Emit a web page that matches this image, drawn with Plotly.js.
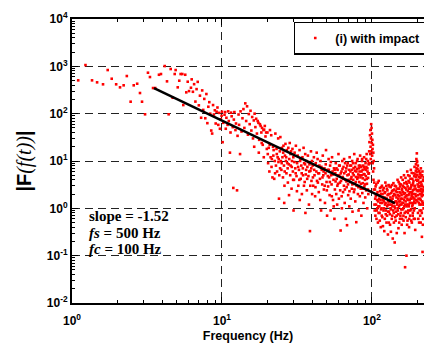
<!DOCTYPE html>
<html>
<head>
<meta charset="utf-8">
<script src="https://cdn.plot.ly/plotly-3.0.1.min.js"></script>
<style>html,body{margin:0;padding:0;background:#fff;}</style>
</head>
<body>
<div id="chart" style="width:424px;height:344px;"></div>
<script>
// [frequency Hz, |F(f(t))|], grouped by frequency band
const band1to6Hz = [[1.10,506],[1.23,1064],[1.36,506],[1.47,459],[1.61,417],[1.73,835],[1.84,547],[1.97,417],[2.09,360],[2.21,397],[2.32,624],[2.46,179],[2.58,397],[2.72,429],[2.84,273],[2.93,179],[3.07,97],[3.21,733],[3.31,594],[3.47,348],[3.59,348],[3.80,664],[3.92,688],[4.15,1014],[4.30,482],[4.41,97],[4.55,877],[4.69,217],[4.84,688],[4.91,835],[5.07,360],[5.19,497],[5.30,688],[5.44,688],[5.52,152],[5.69,664],[5.78,282],[5.91,473],[6.03,300],[6.21,353],[6.28,531]];
const band6to10Hz = [[6.40,290],[6.52,420],[6.65,180],[6.77,330],[6.89,470],[7.01,150],[7.13,240],[7.26,82],[7.38,310],[7.50,120],[7.62,205],[7.74,80],[7.87,260],[7.99,63],[8.11,140],[8.23,175],[8.35,100],[8.48,44],[8.60,38],[8.72,152],[8.84,96],[8.96,118],[9.08,62],[9.21,110],[9.33,135],[9.45,58],[9.57,104],[9.69,48],[9.82,76],[9.94,90]];
const band10to20Hz = [[10.0,110],[10.1,25],[10.2,64],[10.4,95],[10.5,108],[10.6,48],[10.7,82],[10.9,58],[11.0,112],[11.1,70],[11.3,15],[11.4,40],[11.5,105],[11.6,88],[11.8,52],[11.9,2.7],[12.0,75],[12.1,108],[12.3,45],[12.4,62],[12.6,2.4],[12.7,34],[12.9,96],[13.0,58],[13.2,14],[13.3,112],[13.5,42],[13.7,80],[13.9,125],[14.1,50],[14.3,165],[14.5,70],[14.7,143],[14.9,36],[15.1,98],[15.3,60],[15.5,115],[15.7,44],[15.9,85],[16.1,30],[16.3,72],[16.4,20],[16.5,100],[16.7,52],[16.9,78],[17.1,38],[17.3,70],[17.5,64],[17.6,15],[17.7,28],[17.9,60],[18.1,55],[18.3,40],[18.4,24],[18.5,50],[18.7,22],[18.9,45],[19.0,12],[19.1,46],[19.3,55],[19.5,33],[19.7,40],[19.9,18]];
const band20to40Hz = [[20.1,40],[20.2,14],[20.3,9],[20.5,19],[20.7,6],[20.8,22],[20.9,45],[21.1,12],[21.3,35],[21.4,7.5],[21.5,11],[21.7,4.5],[21.9,20],[22.0,13],[22.1,17],[22.3,4.2],[22.5,10],[22.6,5.5],[22.7,38],[22.9,8],[23.1,18],[23.2,14],[23.3,6],[23.5,12],[23.7,30],[23.8,9.5],[23.9,11],[24.0,1.6],[24.1,5],[24.3,16],[24.4,7],[24.5,32],[24.7,10],[24.9,6.5],[25.0,9],[25.1,19],[25.3,12],[25.5,4.5],[25.6,15],[25.7,21],[25.9,8],[26.0,1.3],[26.1,3],[26.2,6],[26.3,13],[26.5,23],[26.7,10],[26.8,12],[26.9,5.5],[27.1,17],[27.3,9],[27.4,7],[27.5,3.5],[27.7,19],[27.9,8.5],[28.0,1.9],[28.1,11],[28.3,24],[28.5,5],[28.6,14],[28.7,8],[28.9,16],[29.1,2.6],[29.2,7.5],[29.3,10],[29.5,18],[29.7,6],[29.8,4],[29.9,12],[30.0,0.9],[30.2,4],[30.4,9.5],[30.5,15],[30.8,7],[31.0,5.5],[31.1,21],[31.4,4.8],[31.6,2.3],[31.7,9],[32.0,13],[32.2,7.5],[32.3,3],[32.6,6.5],[32.8,4],[32.9,17],[33.0,1.5],[33.2,10],[33.4,11],[33.5,4.2],[33.8,8],[34.0,5.5],[34.1,2.0],[34.4,12],[34.6,7],[34.7,5],[35.0,19],[35.2,3],[35.3,9],[35.6,3.6],[35.8,8.5],[35.9,14],[36.0,0.8],[36.2,5.2],[36.4,6.5],[36.5,10],[36.8,2.4],[37.0,4.2],[37.1,7.5],[37.4,13],[37.6,9.5],[37.7,4.8],[38.0,1.2],[38.2,6],[38.3,8.5],[38.6,0.33],[38.8,3],[38.9,6.2],[39.2,16],[39.4,7],[39.5,3.8],[39.8,10],[39.9,2]];
const band40to96Hz = [[40.2,8],[40.4,4.5],[40.6,3],[41.0,12],[41.2,6.5],[41.4,5],[41.8,1.8],[42.0,2.8],[42.2,9],[42.6,6],[42.8,15],[43.0,3.8],[43.4,11],[43.6,3.5],[43.8,5.5],[44.2,2.2],[44.4,5.5],[44.6,8],[45.0,4.2],[45.2,1.5],[45.4,10],[45.8,0.9],[46.0,7.5],[46.2,6.5],[46.6,3.2],[46.8,4.5],[47.0,13],[47.4,5],[47.6,6],[47.8,2.5],[48.2,7],[48.4,3],[48.6,1.3],[49.0,5.5],[49.2,8.5],[49.4,17],[49.8,3.6],[50.0,2.4],[50.2,0.7],[50.6,6.5],[50.8,4.8],[51.0,2.9],[51.4,11],[51.6,6.5],[51.8,4.5],[52.2,1.9],[52.4,3.6],[52.6,8],[53.0,0.9],[53.2,9.5],[53.4,5],[53.8,3.2],[54.0,1.8],[54.2,12],[54.6,6],[54.8,5.2],[55.0,1.5],[55.4,4],[55.6,1.1],[55.8,7],[56.2,0.6],[56.4,6.5],[56.6,2.5],[57.0,5.5],[57.2,3.7],[57.4,9],[57.8,2],[58.0,7],[58.2,4.2],[58.6,1.2],[58.8,3],[59.0,6.5],[59.4,3.3],[59.6,5],[59.8,14],[60.2,1.6],[60.4,8],[60.6,5],[61.0,8],[61.2,3.5],[61.4,2.4],[61.8,0.34],[62.0,5.5],[62.2,3.8],[62.6,6],[62.8,1.8],[63.0,1.0],[63.4,10],[63.6,6.8],[63.8,4.6],[64.2,2.2],[64.4,4.2],[64.6,7.5],[65.0,3],[65.2,11],[65.4,5.5],[65.8,1.3],[66.0,2.5],[66.2,9],[66.6,4],[66.8,6],[67.0,0.6],[67.4,7],[67.6,3.7],[67.8,2.8],[68.2,0.44],[68.4,8],[68.6,5],[69.0,9],[69.2,3.2],[69.4,1.9],[69.8,4],[70.0,5.2],[70.2,6.5],[70.6,1.1],[70.8,2.3],[71.0,12],[71.4,3.6],[71.6,8],[71.8,6],[72.2,1.6],[72.4,4.2],[72.6,8],[73.0,4.6],[73.2,6.5],[73.4,2.6],[73.8,10],[74.0,3.2],[74.2,0.85],[74.6,5.5],[74.8,9],[75.0,4],[75.4,7],[75.6,5],[75.8,2.2],[76.2,14],[76.4,2.5],[76.6,3.3],[77.0,6.2],[77.2,7.5],[77.4,1.4],[77.8,9],[78.0,3.6],[78.2,4.6],[78.6,0.51],[78.8,6],[79.0,3],[79.4,6.8],[79.6,10],[79.8,4.2],[80.2,11],[80.4,4.5],[80.6,2],[81.0,5.2],[81.2,2.8],[81.4,0.9],[81.8,8],[82.0,7],[82.2,3.6],[82.6,6],[82.8,5],[83.0,1.8],[83.4,13],[83.6,8],[83.8,4.5],[84.2,2.6],[84.4,3.3],[84.6,7.5],[85.0,0.7],[85.2,6],[85.4,5],[85.8,10],[86.0,11],[86.2,2.1],[86.6,6.5],[86.8,4.3],[87.0,3.4],[87.4,8],[87.6,2.6],[87.8,1.3],[88.2,5.3],[88.4,7.5],[88.6,12],[89.0,2.9],[89.2,5.2],[89.4,6.8],[89.8,4],[90.0,3.2],[90.2,1.7],[90.6,9],[90.8,6.5],[91.0,4.8],[91.4,2.4],[91.6,11],[91.8,7.5],[92.2,14],[92.4,4.2],[92.6,3.3],[93.0,1],[93.2,7],[93.4,6],[93.8,10],[94.0,2.5],[94.2,4.4],[94.6,2],[94.8,5.4],[95.0,8.5],[95.4,5.5],[95.6,9],[95.8,16]];
const band100HzPeak = [[96.2,25],[96.6,9],[97.0,35],[97.3,14],[97.6,45],[97.9,20],[98.2,11],[98.5,30],[98.8,60],[99.1,16],[99.4,50],[99.7,24],[100.0,38],[100.3,13],[100.6,28],[100.9,18],[101.2,9],[101.5,22],[101.8,6],[102.1,15],[102.4,4],[102.7,10],[103.0,2.5],[103.3,7],[103.6,3.5]];
const band104to222Hz = [[104.0,1.2],[104.35,0.9],[104.7,2.5],[105.05,1.6],[105.4,0.7],[105.75,2.9],[106.1,1.8],[106.45,1.2],[106.8,3.2],[107.15,0.6],[107.5,0.9],[107.85,2.0],[108.2,1.5],[108.55,1.0],[108.9,2.2],[109.25,3.5],[109.6,0.5],[109.95,1.4],[110.3,1.1],[110.65,0.8],[111.0,3.8],[111.35,1.9],[111.7,1.6],[112.05,1.1],[112.4,0.8],[112.75,0.55],[113.1,2.7],[113.45,2.3],[113.8,1.3],[114.15,1.5],[114.5,0.4],[114.85,0.95],[115.2,2.0],[115.55,2.8],[115.9,1.0],[116.25,0.7],[116.6,3.0],[116.95,1.3],[117.3,0.65],[117.65,2.0],[118.0,1.7],[118.35,0.42],[118.7,2.4],[119.05,1.5],[119.4,0.9],[119.75,2.7],[120.1,1.4],[120.45,1.0],[120.8,0.33],[121.15,1.7],[121.5,2.1],[121.85,0.6],[122.2,1.2],[122.55,2.2],[122.9,3.5],[123.25,1.3],[123.6,0.75],[123.95,0.9],[124.3,1.6],[124.65,3.0],[125.0,0.5],[125.35,1.6],[125.7,2.6],[126.05,0.7],[126.4,1.1],[126.75,2.4],[127.1,1.9],[127.45,1.2],[127.8,0.28],[128.15,0.85],[128.5,1.4],[128.85,2.0],[129.2,3.1],[129.55,0.5],[129.9,0.85],[130.25,1.4],[130.6,2.0],[130.95,2.9],[131.3,1.2],[131.65,0.75],[132.0,0.45],[132.35,1.5],[132.7,1.7],[133.05,1.0],[133.4,2.8],[133.75,0.32],[134.1,0.95],[134.45,2.1],[134.8,1.5],[135.15,1.2],[135.5,0.6],[135.85,3.1],[136.2,2.3],[136.55,0.7],[136.9,1.1],[137.25,1.6],[137.6,0.23],[137.95,2.4],[138.3,1.8],[138.65,0.9],[139.0,3.4],[139.35,1.3],[139.7,0.8],[140.05,0.5],[140.4,1.3],[140.75,2.0],[141.1,2.5],[141.45,1.1],[141.8,0.19],[142.15,3.0],[142.5,1.0],[142.85,0.65],[143.2,1.9],[143.55,1.4],[143.9,0.55],[144.25,2.3],[144.6,2.9],[144.95,0.85],[145.3,1.4],[145.65,1.7],[146.0,0.7],[146.35,0.3],[146.7,2.2],[147.05,1.3],[147.4,1.2],[147.75,2.6],[148.1,4.0],[148.45,1.0],[148.8,0.9],[149.15,1.9],[149.5,1.6],[149.85,0.75],[150.2,0.38],[150.55,3.6],[150.9,2.6],[151.25,1.4],[151.6,1.1],[151.95,0.5],[152.3,1.8],[152.65,2.2],[153.0,3.3],[153.35,1.2],[153.7,0.6],[154.05,2.9],[154.4,1.4],[154.75,0.7],[155.1,2.1],[155.45,1.6],[155.8,0.8],[156.15,3.2],[156.5,4.5],[156.85,0.95],[157.2,1.2],[157.55,1.9],[157.9,0.45],[158.25,2.6],[158.6,2.4],[158.95,0.6],[159.3,1.6],[159.65,1.3],[160.0,0.95],[160.35,4.0],[160.7,3.0],[161.05,2.2],[161.4,1.3],[161.75,1.0],[162.1,0.7],[162.45,0.55],[162.8,2.0],[163.15,2.8],[163.5,5.0],[163.85,1.5],[164.2,1.1],[164.55,3.4],[164.9,0.3],[165.25,0.8],[165.6,1.7],[165.95,2.1],[166.3,0.057],[166.65,1.2],[167.0,2.7],[167.35,4.4],[167.7,1.4],[168.05,0.65],[168.4,0.85],[168.75,1.8],[169.1,3.6],[169.45,2.5],[169.8,0.1],[170.15,1.1],[170.5,1.9],[170.85,3.3],[171.2,1.2],[171.55,0.45],[171.9,6.0],[172.25,1.6],[172.6,0.55],[172.95,2.9],[173.3,2.3],[173.65,0.8],[174.0,1.5],[174.35,5.0],[174.7,0.9],[175.05,1.9],[175.4,3.8],[175.75,1.2],[176.1,1.1],[176.45,2.6],[176.8,0.4],[177.15,0.6],[177.5,2.0],[177.85,3.5],[178.2,4.8],[178.55,1.5],[178.9,1.3],[179.25,2.2],[179.6,0.7],[179.95,0.9],[180.3,2.6],[180.65,4.2],[181.0,1.6],[181.35,1.3],[181.7,6.5],[182.05,2.8],[182.4,0.95],[182.75,0.55],[183.1,3.1],[183.45,1.6],[183.8,1.8],[184.15,5.6],[184.5,0.5],[184.85,2.0],[185.2,2.2],[185.55,1.1],[185.9,4.2],[186.25,3.1],[186.6,1.2],[186.95,0.7],[187.3,0.8],[187.65,2.4],[188.0,3.4],[188.35,1.3],[188.7,1.7],[189.05,3.8],[189.4,5.5],[189.75,2.0],[190.1,0.6],[190.45,0.9],[190.8,2.5],[191.15,4.8],[191.5,1.4],[191.85,1.6],[192.2,7.5],[192.55,2.9],[192.9,1.0],[193.25,0.6],[193.6,3.0],[193.95,5.2],[194.3,0.35],[194.65,1.3],[195.0,2.0],[195.35,2.6],[195.7,4.6],[196.05,6.2],[196.4,8.5],[196.75,1.8],[197.1,1.5],[197.45,4.0],[197.8,11],[198.15,7.0],[198.5,5.8],[198.85,2.4],[199.2,14.5],[199.55,10],[199.9,9.5],[200.25,5.0],[200.6,3.8],[200.95,1.4],[201.3,6.8],[201.65,3.2],[202.0,2.3],[202.35,8.0],[202.7,0.8],[203.05,1.9],[203.4,4.0],[203.75,0.6],[204.1,1.6],[204.45,2.9],[204.8,6.0],[205.15,4.6],[205.5,2.8],[205.85,1.3],[206.2,0.5],[206.55,2.4],[206.9,3.5],[207.25,6.2],[207.6,1.2],[207.95,0.9],[208.3,5.2],[208.65,3.0],[209.0,2.0],[209.35,1.6],[209.7,0.7],[210.05,5.5],[210.4,4.4],[210.75,2.3],[211.1,1.5],[211.45,0.5],[211.8,7.0],[212.15,3.6],[212.5,2.6],[212.85,1.2],[213.2,0.9],[213.55,4.8],[213.9,3.2],[214.25,2.0],[214.6,1.8],[214.95,0.8],[215.3,0.25],[215.65,3.0],[216.0,5.0],[216.35,1.4],[216.7,2.2],[217.05,6.0],[217.4,0.12],[217.75,2.5],[218.1,1.3],[218.45,0.45],[218.8,3.8],[219.15,1.9],[219.5,0.6],[219.85,4.0],[220.2,2.4],[220.55,1.2],[220.9,1.0],[221.25,2.8],[221.6,4.5]];

// power-law fit (slope = -1.52): end points [frequency, magnitude]
const fitLine = [[3.52,347],[142,1.29]];

const xTickVals = [1, 10, 100];
const xTickText = ['10<sup>0</sup>', '10<sup>1</sup>', '10<sup>2</sup>'];
const yTickVals = [0.01, 0.1, 1, 10, 100, 1000, 10000];
const yTickText = ['10<sup>-2</sup>', '10<sup>-1</sup>', '10<sup>0</sup>', '10<sup>1</sup>', '10<sup>2</sup>', '10<sup>3</sup>', '10<sup>4</sup>'];
const xMinor = [2,3,4,5,6,7,8,9,20,30,40,50,60,70,80,90,200];
const yMinor = [];
[0.01,0.1,1,10,100,1000].forEach(d => { for (let k = 2; k <= 9; k++) yMinor.push(+(d*k).toPrecision(3)); });

const pts = [].concat(band1to6Hz, band6to10Hz, band10to20Hz, band20to40Hz, band40to96Hz, band100HzPeak, band104to222Hz);

const traces = [
  {
    type: 'scatter', mode: 'markers', name: '<b>(i) with impact</b>',
    x: pts.map(p => p[0]), y: pts.map(p => p[1]),
    marker: {symbol: 'square', size: 2.6, color: '#ff0000', line: {width: 0}},
    showlegend: true
  },
  {
    type: 'scatter', mode: 'lines', name: 'fit',
    x: fitLine.map(p => p[0]), y: fitLine.map(p => p[1]),
    line: {color: '#000', width: 2.5}, showlegend: false
  }
];

const axisCommon = {
  type: 'log', showline: true, linecolor: '#000', linewidth: 2,
  ticks: 'inside', ticklen: 6, tickwidth: 1, tickcolor: '#000',
  tickmode: 'array',
  tickfont: {family: 'Liberation Sans, Arial, sans-serif', size: 12, weight: 'bold', color: '#000'},
  showgrid: true, gridcolor: '#222', gridwidth: 1, griddash: '8px,5px',
  zeroline: false
};

const layout = {
  width: 424, height: 344,
  margin: {l: 72, r: 0, t: 19, b: 41, autoexpand: false},
  paper_bgcolor: '#fff', plot_bgcolor: '#fff',
  font: {family: 'Liberation Sans, Arial, sans-serif', color: '#000'},
  xaxis: Object.assign({}, axisCommon, {
    range: [0, 2.347], mirror: 'allticks',
    tickvals: xTickVals, ticktext: xTickText, ticklabelstandoff: 6,
    minor: {tickmode: 'array', tickvals: xMinor, ticks: 'inside', ticklen: 3, tickcolor: '#000', showgrid: false},
    title: {text: '<b>Frequency (Hz)</b>', font: {size: 12.5}, standoff: 4}
  }),
  yaxis: Object.assign({}, axisCommon, {
    range: [-2, 4], mirror: false,
    tickvals: yTickVals, ticktext: yTickText,
    minor: {tickmode: 'array', tickvals: yMinor, ticks: 'inside', ticklen: 3, tickcolor: '#000', showgrid: false},
    title: {text: "<b>|F</b><span style=\"font-family:'Liberation Serif',serif\"><i>(f(t))</i></span><b>|</b>", font: {size: 20}, standoff: 10}
  }),
  showlegend: true,
  legend: {
    x: 0.63, y: 0.99, xanchor: 'left', yanchor: 'top',
    bgcolor: '#fff', bordercolor: '#000', borderwidth: 1.5,
    font: {family: 'Liberation Sans, Arial, sans-serif', size: 12.5, color: '#000'},
    itemwidth: 30, tracegroupgap: 0
  },
  annotations: [
    {xref: 'paper', yref: 'paper', x: 0.043, y: 0.306, xanchor: 'left', yanchor: 'middle', showarrow: false,
     text: '<b>slope = -1.52</b>', font: {family: 'Liberation Serif, Times New Roman, serif', size: 15, color: '#000'}},
    {xref: 'paper', yref: 'paper', x: 0.043, y: 0.246, xanchor: 'left', yanchor: 'middle', showarrow: false,
     text: '<b><i>fs</i> = 500 Hz</b>', font: {family: 'Liberation Serif, Times New Roman, serif', size: 15, color: '#000'}},
    {xref: 'paper', yref: 'paper', x: 0.043, y: 0.190, xanchor: 'left', yanchor: 'middle', showarrow: false,
     text: '<b><i>fc</i> = 100 Hz</b>', font: {family: 'Liberation Serif, Times New Roman, serif', size: 15, color: '#000'}}
  ]
};

Plotly.newPlot('chart', traces, layout, {staticPlot: true, displayModeBar: false});
</script>
</body>
</html>
